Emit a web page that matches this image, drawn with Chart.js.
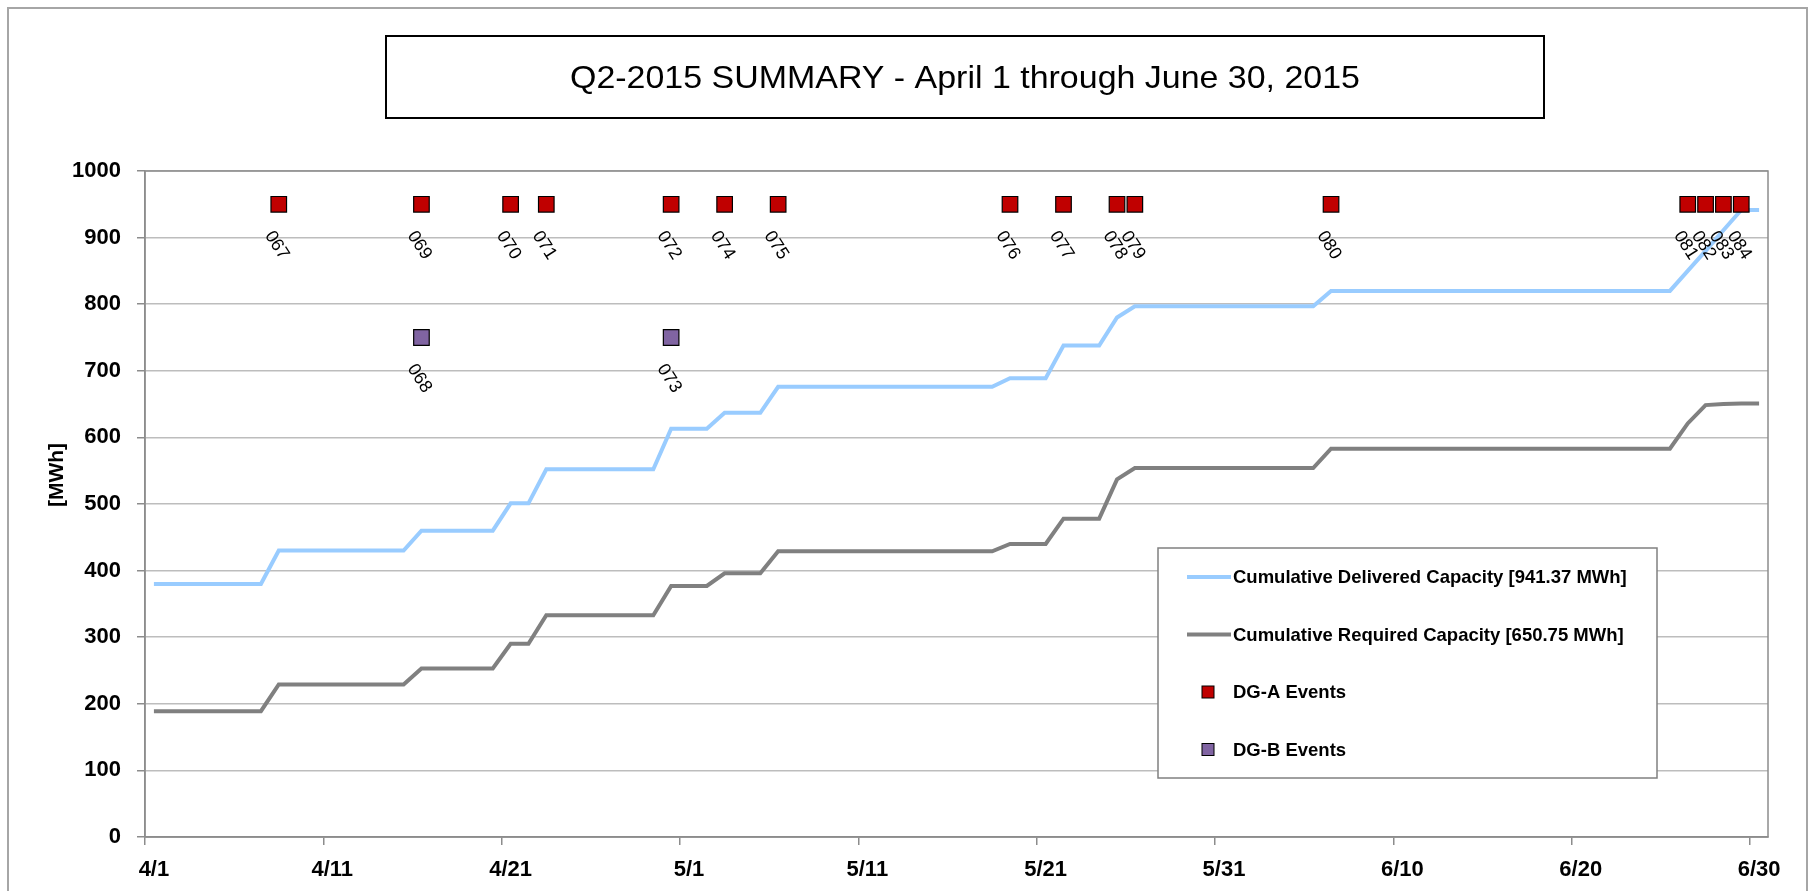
<!DOCTYPE html>
<html>
<head>
<meta charset="utf-8">
<title>Q2-2015 SUMMARY</title>
<script src="https://cdn.jsdelivr.net/npm/chart.js@4.4.1/dist/chart.umd.min.js"></script>
<style>
  html, body { margin: 0; padding: 0; background: #fff; }
  #wrap { position: relative; width: 1814px; height: 891px; overflow: hidden; }
</style>
</head>
<body>
<div id="wrap"><canvas id="chart" width="1814" height="891"></canvas></div>
<script>
// categories (one per day of the quarter)
const dayLabels = [
  '4/1','4/2','4/3','4/4','4/5','4/6','4/7','4/8','4/9','4/10',
  '4/11','4/12','4/13','4/14','4/15','4/16','4/17','4/18','4/19','4/20',
  '4/21','4/22','4/23','4/24','4/25','4/26','4/27','4/28','4/29','4/30',
  '5/1','5/2','5/3','5/4','5/5','5/6','5/7','5/8','5/9','5/10',
  '5/11','5/12','5/13','5/14','5/15','5/16','5/17','5/18','5/19','5/20',
  '5/21','5/22','5/23','5/24','5/25','5/26','5/27','5/28','5/29','5/30','5/31',
  '6/1','6/2','6/3','6/4','6/5','6/6','6/7','6/8','6/9','6/10',
  '6/11','6/12','6/13','6/14','6/15','6/16','6/17','6/18','6/19','6/20',
  '6/21','6/22','6/23','6/24','6/25','6/26','6/27','6/28','6/29','6/30'
];

// cumulative delivered capacity [MWh], one value per day
const deliveredValues = [
  380, 380, 380, 380, 380, 380, 380, 430, 430, 430,
  430, 430, 430, 430, 430, 460, 460, 460, 460, 460,
  501, 501, 552, 552, 552, 552, 552, 552, 552, 613,
  613, 613, 637, 637, 637, 676, 676, 676, 676, 676,
  676, 676, 676, 676, 676, 676, 676, 676, 689, 689,
  689, 738, 738, 738, 780, 797, 797, 797, 797, 797, 797,
  797, 797, 797, 797, 797, 820, 820, 820, 820, 820,
  820, 820, 820, 820, 820, 820, 820, 820, 820, 820,
  820, 820, 820, 820, 820, 850, 880, 911, 941.37, 941.37
];

// cumulative required capacity [MWh], one value per day
const requiredValues = [
  189, 189, 189, 189, 189, 189, 189, 229, 229, 229,
  229, 229, 229, 229, 229, 253, 253, 253, 253, 253,
  290, 290, 333, 333, 333, 333, 333, 333, 333, 377,
  377, 377, 396, 396, 396, 429, 429, 429, 429, 429,
  429, 429, 429, 429, 429, 429, 429, 429, 440, 440,
  440, 478, 478, 478, 537, 554, 554, 554, 554, 554, 554,
  554, 554, 554, 554, 554, 583, 583, 583, 583, 583,
  583, 583, 583, 583, 583, 583, 583, 583, 583, 583,
  583, 583, 583, 583, 583, 621, 648.5, 650, 650.75, 650.75
];

// events
const dgADates = ['4/8','4/16','4/21','4/23','4/30','5/3','5/6','5/19','5/22','5/25','5/26','6/6','6/26','6/27','6/28','6/29'];
const dgAValues = [950, 950, 950, 950, 950, 950, 950, 950, 950, 950, 950, 950, 950, 950, 950, 950];
const dgANames = ['067','069','070','071','072','074','075','076','077','078','079','080','081','082','083','084'];

const dgBDates = ['4/16','4/30'];
const dgBValues = [750, 750];
const dgBNames = ['068','073'];

const titleText = 'Q2-2015 SUMMARY - April 1 through June 30, 2015';
const yTitle = '[MWh]';
const FONT = '"Liberation Sans", Arial, sans-serif';

const toPoints = (dates, values) => dates.map((d, i) => ({ x: d, y: values[i] }));

// fond, cadre, titre encadré, titre de l'axe y
const decorPlugin = {
  id: 'decor',
  beforeDraw(chart) {
    const ctx = chart.ctx;
    ctx.save();
    ctx.fillStyle = '#fff';
    ctx.fillRect(0, 0, chart.width, chart.height);
    ctx.strokeStyle = '#a6a6a6';
    ctx.lineWidth = 2;
    ctx.strokeRect(8, 8, 1799, 920);

    ctx.strokeStyle = '#000';
    ctx.lineWidth = 2;
    ctx.strokeRect(386, 36, 1158, 82);

    ctx.fillStyle = '#000';
    ctx.font = '32px ' + FONT;
    ctx.textAlign = 'center';
    ctx.textBaseline = 'middle';
    const w = ctx.measureText(titleText).width;
    ctx.translate(965, 79);
    ctx.scale(790 / w, 1);
    ctx.fillText(titleText, 0, 0);
    ctx.restore();

    ctx.save();
    ctx.fillStyle = '#000';
    ctx.font = 'bold 21px ' + FONT;
    ctx.textAlign = 'center';
    ctx.textBaseline = 'middle';
    ctx.translate(57, 475);
    ctx.rotate(-Math.PI / 2);
    ctx.fillText(yTitle, 0, 0);
    ctx.restore();
  },
  beforeDatasetsDraw(chart) {
    const a = chart.chartArea;
    const ctx = chart.ctx;
    ctx.save();
    ctx.strokeStyle = '#8c8c8c';
    ctx.lineWidth = 1.5;
    ctx.strokeRect(a.left, a.top, a.right - a.left, a.bottom - a.top);
    ctx.restore();
  },
  afterDatasetsDraw(chart) {
    const ctx = chart.ctx;
    chart.data.datasets.forEach((ds, i) => {
      if (!ds.eventNames) return;
      const meta = chart.getDatasetMeta(i);
      meta.data.forEach((pt, j) => {
        ctx.save();
        ctx.fillStyle = '#000';
        ctx.font = '18px ' + FONT;
        ctx.textAlign = 'center';
        ctx.textBaseline = 'middle';
        ctx.translate(pt.x - 2, pt.y + 41);
        ctx.rotate(57 * Math.PI / 180);
        ctx.fillText(ds.eventNames[j], 0, 0);
        ctx.restore();
      });
    });
  }
};

// légende dans un cadre
const legendBoxPlugin = {
  id: 'legendBox',
  afterDraw(chart) {
    const ctx = chart.ctx;
    const box = { x: 1158, y: 548, w: 499, h: 230 };
    const rows = [577, 634.5, 692, 749.5];
    ctx.save();
    ctx.fillStyle = '#fff';
    ctx.fillRect(box.x, box.y, box.w, box.h);
    ctx.strokeStyle = '#808080';
    ctx.lineWidth = 1.5;
    ctx.strokeRect(box.x, box.y, box.w, box.h);
    ctx.font = 'bold 18.5px ' + FONT;
    ctx.textAlign = 'left';
    ctx.textBaseline = 'middle';
    chart.data.datasets.forEach((ds, i) => {
      const y = rows[i];
      if (ds.showLine === false) {
        ctx.fillStyle = ds.backgroundColor;
        ctx.fillRect(1202, y - 6, 12, 12);
        ctx.strokeStyle = '#000';
        ctx.lineWidth = 1;
        ctx.strokeRect(1202, y - 6, 12, 12);
      } else {
        ctx.strokeStyle = ds.borderColor;
        ctx.lineWidth = 4;
        ctx.beginPath();
        ctx.moveTo(1187, y);
        ctx.lineTo(1231, y);
        ctx.stroke();
      }
      ctx.fillStyle = '#000';
      ctx.fillText(ds.label, 1233, y + 1);
    });
    ctx.restore();
  }
};

const gridTick = c => (c.index % 10 === 0 ? '#8c8c8c' : 'rgba(0,0,0,0)');

new Chart(document.getElementById('chart'), {
  type: 'line',
  data: {
    labels: dayLabels,
    datasets: [
      {
        label: 'Cumulative Delivered Capacity [941.37 MWh]',
        data: deliveredValues,
        borderColor: '#99ccff',
        borderWidth: 4,
        pointRadius: 0,
        tension: 0,
        order: 2
      },
      {
        label: 'Cumulative Required Capacity [650.75 MWh]',
        data: requiredValues,
        borderColor: '#808080',
        borderWidth: 4,
        pointRadius: 0,
        tension: 0,
        order: 2
      },
      {
        label: 'DG-A Events',
        data: toPoints(dgADates, dgAValues),
        eventNames: dgANames,
        showLine: false,
        pointStyle: 'rect',
        pointRadius: 11,
        backgroundColor: '#c00000',
        borderColor: '#000',
        borderWidth: 1.2,
        order: 1
      },
      {
        label: 'DG-B Events',
        data: toPoints(dgBDates, dgBValues),
        eventNames: dgBNames,
        showLine: false,
        pointStyle: 'rect',
        pointRadius: 11,
        backgroundColor: '#8064a2',
        borderColor: '#000',
        borderWidth: 1.2,
        order: 1
      }
    ]
  },
  options: {
    responsive: false,
    animation: false,
    devicePixelRatio: 1,
    layout: { padding: { top: 171, right: 46, left: 0, bottom: 0 } },
    plugins: {
      legend: { display: false },
      title: { display: false },
      tooltip: { enabled: false }
    },
    scales: {
      x: {
        type: 'category',
        offset: true,
        grid: {
          offset: true,
          drawOnChartArea: false,
          drawTicks: true,
          tickLength: 8,
          color: gridTick,
          tickColor: gridTick,
          lineWidth: 1.5,
          tickWidth: 1.5
        },
        border: { display: true, color: '#8c8c8c', width: 1.5 },
        ticks: {
          autoSkip: false,
          maxRotation: 0,
          minRotation: 0,
          padding: 12,
          color: '#000',
          font: { family: FONT, size: 22, weight: 'bold' },
          callback: (v, i) => (i % 10 === 0 ? dayLabels[i] : '')
        },
        afterFit: s => { s.height = 54; }
      },
      y: {
        min: 0,
        max: 1000,
        ticks: {
          stepSize: 100,
          padding: 16,
          color: '#000',
          font: { family: FONT, size: 22, weight: 'bold' },
          callback: v => String(v)
        },
        grid: {
          color: '#bdbdbd',
          lineWidth: 1.5,
          drawTicks: true,
          tickLength: 8,
          tickColor: '#8c8c8c',
          tickWidth: 1.5
        },
        border: { display: true, color: '#8c8c8c', width: 1.5 },
        afterFit: s => { s.width = 145; }
      }
    }
  },
  plugins: [decorPlugin, legendBoxPlugin]
});
</script>
</body>
</html>
